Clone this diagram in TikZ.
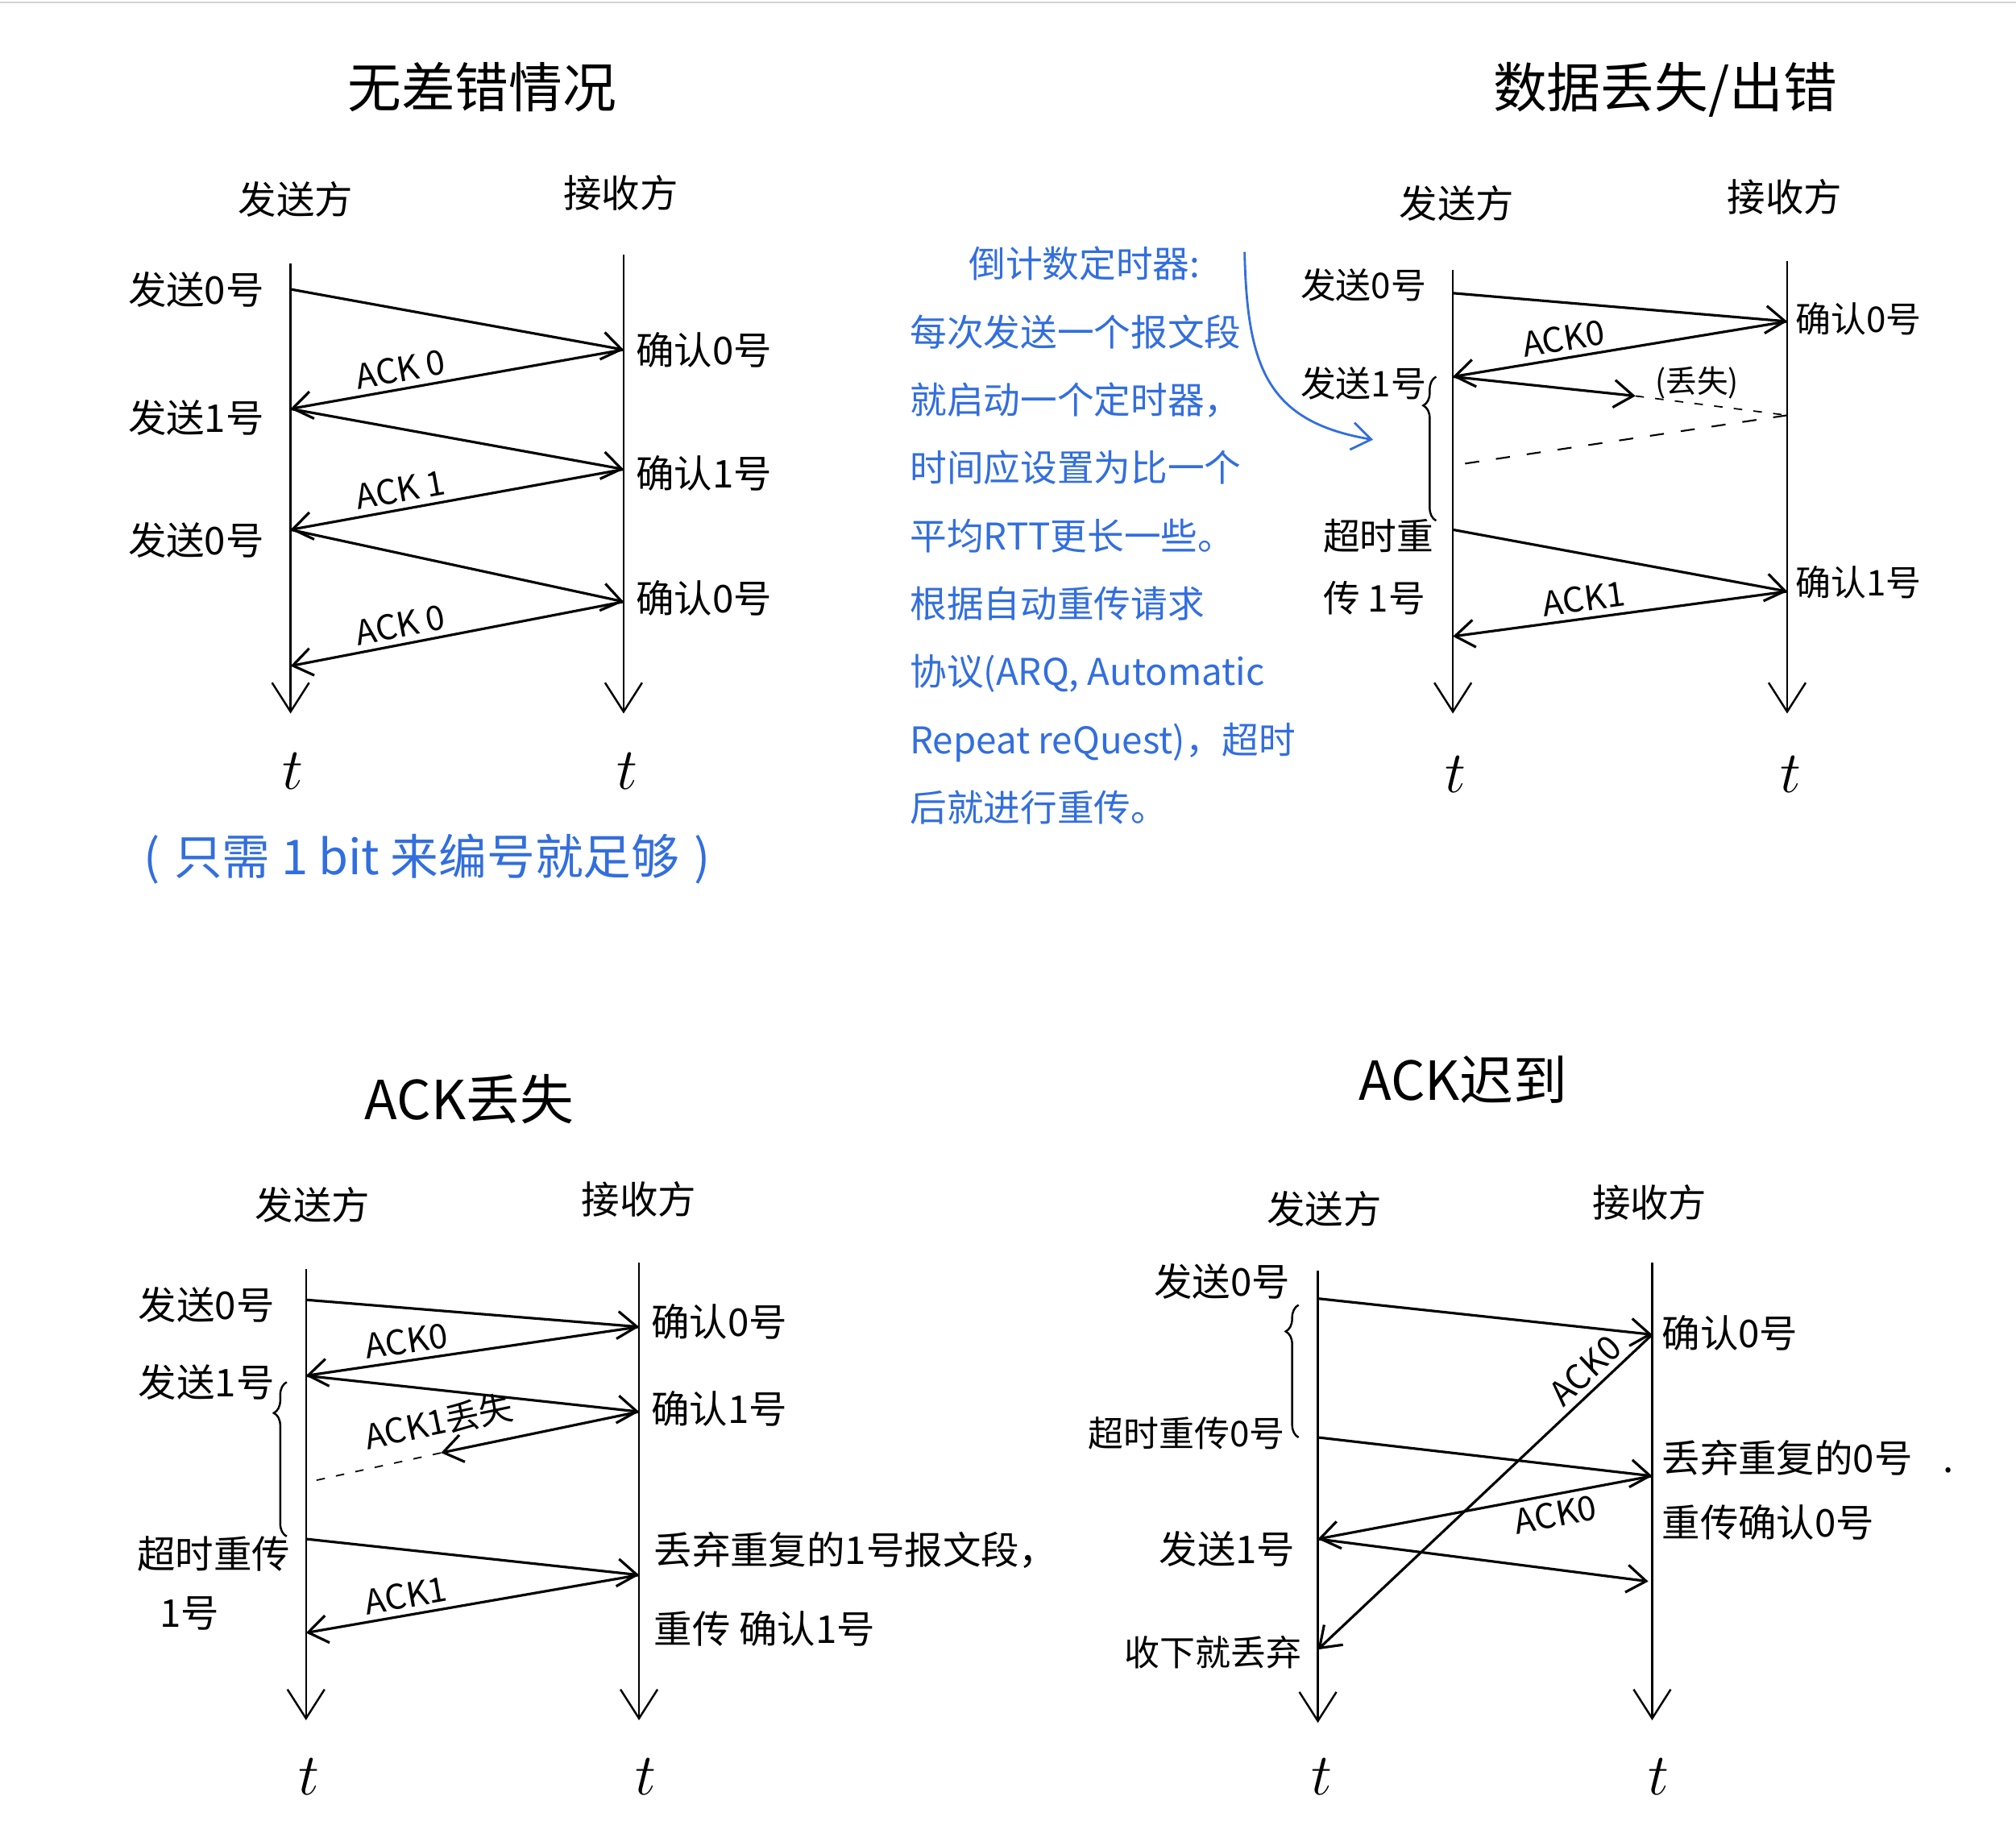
\documentclass[tikz,border=0pt]{standalone}
\usepackage{fontspec}
\setmainfont{Noto Sans CJK SC}
\usetikzlibrary{arrows.meta,decorations.pathreplacing}
\definecolor{inkblue}{RGB}{50,110,222}

\begin{document}
\begin{tikzpicture}[
    x=0.15957mm, y=-0.15957mm,
    font=\fontsize{13.5}{16}\selectfont,
    >={Straight Barb[length=2.4mm,width=3.4mm]},
    heading/.style={font=\fontsize{19}{22}\selectfont},
    party/.style={font=\fontsize{13.5}{16}\selectfont},
    lbl/.style={inner sep=1pt},
    small/.style={font=\fontsize{12.5}{15}\selectfont},
    acklbl/.style={font=\fontsize{12}{14}\selectfont, sloped, inner sep=2pt},
    tlbl/.style={font=\fontsize{21}{22}\selectfont},
    lifeline/.style={-{Straight Barb[length=3.6mm,width=4.6mm]}, line width=0.7pt},
    msg/.style={->, line width=0.9pt},
    gone/.style={dashed, dash pattern=on 5pt off 6pt, line width=0.6pt},
    faint/.style={dash pattern=on 3pt off 4pt, line width=0.5pt},
    timer/.style={decorate, decoration={brace, amplitude=1.6mm, aspect=0.8}, line width=0.7pt},
    note/.style={text=inkblue},
    notearrow/.style={->, draw=inkblue, line width=0.8pt}
]
\useasboundingbox (0,0) rectangle (1568,1419);
\draw[gray!35, line width=0.6pt] (0,2) -- (1568,2);

% no error
\node[heading] (titleA) at (375,68) {无差错情况};
\node[party] (sndA) at (230,155) {发送方};
\node[party] (rcvA) at (483,150) {接收方};
\coordinate (sA0) at (226,205);
\coordinate (sA9) at (226,555);
\coordinate (rA0) at (485,198);
\coordinate (rA9) at (485,555);
\draw[lifeline] (sA0) -- (sA9);
\draw[lifeline] (rA0) -- (rA9);
\node[tlbl] (tA1) at (228,600) {$t$};
\node[tlbl] (tA2) at (488,600) {$t$};

\coordinate (sA1) at (226,225);
\coordinate (sA2) at (226,318);
\coordinate (sA3) at (226,412);
\coordinate (sA4) at (226,518);
\coordinate (rA1) at (485,272);
\coordinate (rA2) at (485,365);
\coordinate (rA3) at (485,468);
\draw[msg] (sA1) -- (rA1);
\draw[msg] (rA1) -- node[acklbl, above, pos=0.66] {ACK 0} (sA2);
\draw[msg] (sA2) -- (rA2);
\draw[msg] (rA2) -- node[acklbl, above, pos=0.66] {ACK 1} (sA3);
\draw[msg] (sA3) -- (rA3);
\draw[msg] (rA3) -- node[acklbl, above, pos=0.66] {ACK 0} (sA4);

\node[lbl, anchor=east] (sendA1) at (208,225) {发送0号};
\node[lbl, anchor=east] (sendA2) at (208,325) {发送1号};
\node[lbl, anchor=east] (sendA3) at (208,420) {发送0号};
\node[lbl, anchor=west] (ackA1) at (492,272) {确认0号};
\node[lbl, anchor=west] (ackA2) at (492,368) {确认1号};
\node[lbl, anchor=west] (ackA3) at (492,465) {确认0号};

\node[note, font=\fontsize{17}{20}\selectfont] (bitnote) at (332,668) {(\hspace{0.3em}只需 1 bit 来编号就足够\hspace{0.3em})};

% timer note
\node[note, anchor=north west, align=left, font=\fontsize{13}{24}\selectfont] (timernote) at (700,184)
    {\hspace*{1.6em}倒计数定时器:\\
     每次发送一个报文段\\
     就启动一个定时器，\\
     时间应设置为比一个\\
     平均RTT更长一些。\\
     根据自动重传请求\\
     协议(ARQ, Automatic\\
     Repeat reQuest)，超时\\
     后就进行重传。};
\coordinate (bendA) at (968,196);
\coordinate (bendB) at (1068,342);
\draw[notearrow] (bendA) .. controls (970,285) and (985,328) .. (bendB);

% data lost
\node[heading] (titleB) at (1295,70) {数据丢失/出错};
\node[party] (sndB) at (1133,158) {发送方};
\node[party] (rcvB) at (1388,153) {接收方};
\coordinate (sB0) at (1130,210);
\coordinate (sB9) at (1130,555);
\coordinate (rB0) at (1390,203);
\coordinate (rB9) at (1390,555);
\draw[lifeline] (sB0) -- (sB9);
\draw[lifeline] (rB0) -- (rB9);
\node[tlbl] (tB1) at (1132,602) {$t$};
\node[tlbl] (tB2) at (1393,602) {$t$};

\coordinate (sB1) at (1130,228);
\coordinate (sB2) at (1130,293);
\coordinate (sB3) at (1130,362);
\coordinate (sB4) at (1130,412);
\coordinate (sB5) at (1130,495);
\coordinate (rB1) at (1390,250);
\coordinate (rB2) at (1390,323);
\coordinate (rB3) at (1390,460);
\coordinate (lostB) at (1272,308);
\draw[msg] (sB1) -- (rB1);
\draw[msg] (rB1) -- node[acklbl, above, pos=0.66] {ACK0} (sB2);
\draw[msg] (sB2) -- (lostB);
\draw[faint] (lostB) -- (rB2);
\draw[gone] (rB2) -- (sB3);
\draw[msg] (sB4) -- (rB3);
\draw[msg] (rB3) -- node[acklbl, above, pos=0.6] {ACK1} (sB5);
\draw[timer] (1117,405) -- (1117,293);

\node[lbl, font=\fontsize{11}{13}\selectfont] (lossB) at (1320,298) {(丢失)};
\node[lbl, small, anchor=east] (sendB1) at (1112,222) {发送0号};
\node[lbl, small, anchor=east] (sendB2) at (1112,298) {发送1号};
\node[lbl, align=left, font=\fontsize{13}{22}\selectfont] (sendB3) at (1072,441) {超时重\\传 1号};
\node[lbl, small, anchor=west] (ackB1) at (1394,248) {确认0号};
\node[lbl, small, anchor=west] (ackB2) at (1394,453) {确认1号};

% ACK lost
\node[heading] (titleC) at (365,855) {ACK丢失};
\node[party] (sndC) at (243,937) {发送方};
\node[party] (rcvC) at (497,933) {接收方};
\coordinate (sC0) at (238,987);
\coordinate (sC9) at (238,1338);
\coordinate (rC0) at (497,982);
\coordinate (rC9) at (497,1338);
\draw[lifeline] (sC0) -- (sC9);
\draw[lifeline] (rC0) -- (rC9);
\node[tlbl] (tC1) at (240,1382) {$t$};
\node[tlbl] (tC2) at (502,1382) {$t$};

\coordinate (sC1) at (238,1011);
\coordinate (sC2) at (238,1070);
\coordinate (sC3) at (243,1152);
\coordinate (sC4) at (238,1197);
\coordinate (sC5) at (238,1270);
\coordinate (rC1) at (497,1032);
\coordinate (rC2) at (497,1098);
\coordinate (rC3) at (497,1225);
\coordinate (lostC) at (343,1130);
\draw[msg] (sC1) -- (rC1);
\draw[msg] (rC1) -- node[acklbl, above, pos=0.69] {ACK0} (sC2);
\draw[msg] (sC2) -- (rC2);
\draw[msg] (rC2) -- node[acklbl, above=3pt, pos=0.98] {ACK1丢失} (lostC);
\draw[faint] (lostC) -- (sC3);
\draw[msg] (sC4) -- (rC3);
\draw[msg] (rC3) -- node[acklbl, above, pos=0.69] {ACK1} (sC5);
\draw[timer] (223,1195) -- (223,1075);

\node[lbl, anchor=east] (sendC1) at (216,1015) {发送0号};
\node[lbl, anchor=east] (sendC2) at (216,1075) {发送1号};
\node[lbl, anchor=north west, align=left, font=\fontsize{13.5}{21}\selectfont] (sendC3) at (104,1192) {超时重传\\\hspace*{0.6em}1号};
\node[lbl, anchor=west] (ackC1) at (504,1028) {确认0号};
\node[lbl, anchor=west] (ackC2) at (504,1096) {确认1号};
\node[lbl, anchor=west, align=left, font=\fontsize{13.5}{28}\selectfont] (ackC3) at (506,1236) {丢弃重复的1号报文段，\\重传 确认1号};

% ACK late
\node[heading] (titleD) at (1138,840) {ACK迟到};
\node[party] (sndD) at (1030,940) {发送方};
\node[party] (rcvD) at (1283,935) {接收方};
\coordinate (sD0) at (1025,988);
\coordinate (sD9) at (1025,1340);
\coordinate (rD0) at (1285,982);
\coordinate (rD9) at (1285,1338);
\draw[lifeline] (sD0) -- (sD9);
\draw[lifeline] (rD0) -- (rD9);
\node[tlbl] (tD1) at (1028,1382) {$t$};
\node[tlbl] (tD2) at (1290,1382) {$t$};

\coordinate (sD1) at (1025,1010);
\coordinate (sD2) at (1025,1118);
\coordinate (sD3) at (1025,1197);
\coordinate (sD4) at (1025,1283);
\coordinate (rD1) at (1285,1038);
\coordinate (rD2) at (1285,1148);
\coordinate (rD3) at (1282,1230);
\draw[msg] (sD1) -- (rD1);
\draw[msg] (sD2) -- (rD2);
\draw[msg] (rD1) -- node[acklbl, above, pos=0.16] {ACK0} (sD4);
\draw[msg] (rD2) -- node[acklbl, below, pos=0.3] {ACK0} (sD3);
\draw[msg] (sD3) -- (rD3);
\draw[timer] (1010,1118) -- (1010,1015);

\node[lbl, anchor=east] (sendD1) at (1006,997) {发送0号};
\node[lbl, small, anchor=east] (sendD2) at (1002,1115) {超时重传0号};
\node[lbl, anchor=east] (sendD3) at (1010,1205) {发送1号};
\node[lbl, small, anchor=east] (sendD4) at (1015,1285) {收下就丢弃};
\node[lbl, anchor=west] (ackD1) at (1290,1037) {确认0号};
\node[lbl, anchor=west, align=left, font=\fontsize{13.5}{23}\selectfont] (ackD2) at (1290,1159) {丢弃重复的0号\hspace{0.8em}.\\重传确认0号};

\end{tikzpicture}
\end{document}
